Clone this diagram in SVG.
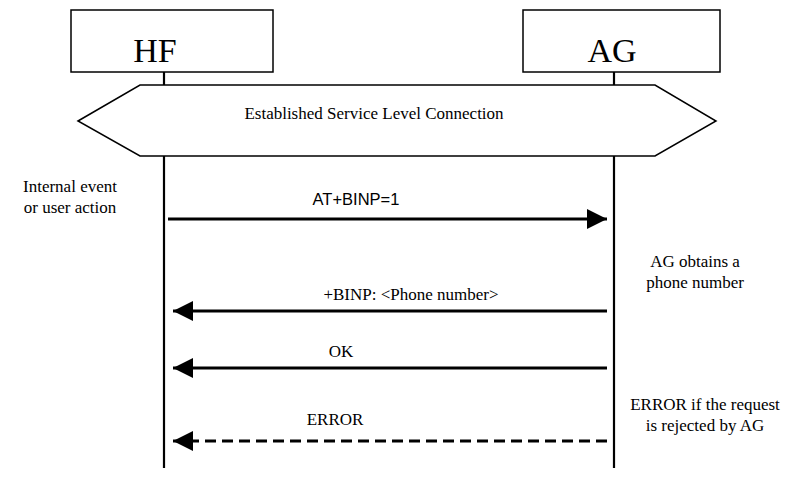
<svg xmlns="http://www.w3.org/2000/svg" width="803" height="477" viewBox="0 0 803 477">
<style>
.box{fill:#fff;stroke:#000;stroke-width:1.5}
.life{stroke:#000;stroke-width:2.2;fill:none}
.msg{stroke:#000;stroke-width:3;fill:none}
.dash{stroke-dasharray:11,6}
.t{font-family:"Liberation Serif","Times New Roman",serif;font-size:17px;fill:#000}
.s{font-family:"Liberation Sans",Arial,sans-serif;font-size:16.5px;fill:#000}
.big{font-family:"Liberation Serif","Times New Roman",serif;font-size:34px;fill:#000}
</style>
<defs>
<marker id="ah" markerUnits="userSpaceOnUse" markerWidth="22" markerHeight="22" refX="20" refY="10" orient="auto">
<path d="M0,0 L20,10 L0,20 Z" fill="#000"/>
</marker>
</defs>
<rect width="803" height="477" fill="#fff"/>
<g id="lifelines">
<line class="life" x1="164" y1="72" x2="164" y2="85"/>
<line class="life" x1="164" y1="156" x2="164" y2="468"/>
<line class="life" x1="614" y1="72" x2="614" y2="85"/>
<line class="life" x1="614" y1="156" x2="614" y2="468"/>
</g>
<g id="HF">
<rect class="box" x="71" y="10" width="202" height="62"/>
<text class="big" x="155" y="62" text-anchor="middle">HF</text>
</g>
<g id="AG">
<rect class="box" x="523" y="10" width="197" height="62"/>
<text class="big" x="612" y="62" text-anchor="middle">AG</text>
</g>
<g id="slc">
<polygon class="box" points="78,121 140,85 655,85 716,121 655,156 140,156"/>
<text class="t" x="374" y="119" text-anchor="middle">Established Service Level Connection</text>
</g>
<g id="note-hf">
<text class="t" x="70" y="192" text-anchor="middle">Internal event</text>
<text class="t" x="70" y="213" text-anchor="middle">or user action</text>
</g>
<g id="note-ag1">
<text class="t" x="695" y="267" text-anchor="middle">AG obtains a</text>
<text class="t" x="695" y="288" text-anchor="middle">phone number</text>
</g>
<g id="note-ag2">
<text class="t" x="705" y="410" text-anchor="middle">ERROR if the request</text>
<text class="t" x="705" y="431" text-anchor="middle">is rejected by AG</text>
</g>
<g id="connectors">
<line class="msg" x1="168" y1="219" x2="607" y2="219" marker-end="url(#ah)"/>
<text class="s" x="356" y="205" text-anchor="middle">AT+BINP=1</text>
<line class="msg" x1="607" y1="311" x2="173" y2="311" marker-end="url(#ah)"/>
<text class="t" x="411" y="300" text-anchor="middle">+BINP: &lt;Phone number&gt;</text>
<line class="msg" x1="607" y1="368" x2="173" y2="368" marker-end="url(#ah)"/>
<text class="t" x="341" y="357" text-anchor="middle">OK</text>
<line class="msg dash" x1="607" y1="441" x2="180" y2="441"/>
<line class="msg" x1="185" y1="441" x2="173" y2="441" marker-end="url(#ah)"/>
<text class="t" x="335" y="425" text-anchor="middle">ERROR</text>
</g>
</svg>
